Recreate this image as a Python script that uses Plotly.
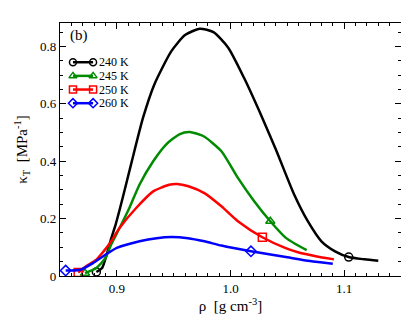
import plotly.graph_objects as go

# ---- data ----
x240 = [0.882, 0.887, 0.891, 0.895, 0.899, 0.905, 0.913, 0.923, 0.933, 0.948, 0.960, 0.973, 0.985, 0.998,
        1.012, 1.028, 1.040, 1.056, 1.068, 1.080, 1.092, 1.104, 1.118, 1.130]
y240 = [0.014, 0.028, 0.074, 0.130, 0.180, 0.270, 0.397, 0.551, 0.668, 0.784, 0.840, 0.862, 0.850, 0.796,
        0.690, 0.551, 0.440, 0.284, 0.191, 0.121, 0.086, 0.066, 0.058, 0.053]
x245 = [0.872, 0.882, 0.890, 0.895, 0.9025, 0.911, 0.920, 0.932, 0.9435, 0.955, 0.964, 0.976, 0.992, 1.0065,
        1.021, 1.035, 1.049, 1.067]
y245 = [0.010, 0.028, 0.063, 0.110, 0.168, 0.237, 0.319, 0.400, 0.459, 0.494, 0.502, 0.488, 0.435, 0.342,
        0.260, 0.191, 0.132, 0.090]
x250 = [0.866, 0.873, 0.882, 0.888, 0.894, 0.9025, 0.917, 0.932, 0.946, 0.953, 0.963, 0.977, 0.992, 1.0065,
        1.028, 1.048, 1.060, 1.075, 1.091]
y250 = [0.012, 0.034, 0.057, 0.084, 0.115, 0.168, 0.237, 0.295, 0.318, 0.321, 0.313, 0.289, 0.243, 0.191,
        0.135, 0.098, 0.082, 0.069, 0.058]
x260 = [0.855, 0.868, 0.879, 0.888, 0.900, 0.920, 0.935, 0.948, 0.9626, 0.977, 0.992, 1.018, 1.050, 1.070,
        1.090]
y260 = [0.019, 0.022, 0.045, 0.069, 0.098, 0.121, 0.132, 0.136, 0.132, 0.121, 0.106, 0.086, 0.065, 0.052,
        0.043]

# marker points
mx240 = [0.882, 1.104]; my240 = [0.014, 0.066]
mx245 = [0.872, 1.035]; my245 = [0.010, 0.191]
mx250 = [0.866, 1.028]; my250 = [0.012, 0.135]
mx260 = [0.855, 1.018]; my260 = [0.019, 0.086]

labels = ["240 K", "245 K", "250 K", "260 K"]
colors = ["black", "rgb(0,139,0)", "rgb(255,0,0)", "rgb(0,0,255)"]
symbols = ["circle-open", "triangle-up-open", "square-open", "diamond-open"]

series = [(x240, y240, mx240, my240), (x245, y245, mx245, my245),
          (x250, y250, mx250, my250), (x260, y260, mx260, my260)]

font = "Liberation Serif, Times New Roman, serif"
fig = go.Figure()
for (xs, ys, mxs, mys), lab, col, sym in zip(series, labels, colors, symbols):
    fig.add_trace(go.Scatter(x=xs, y=ys, mode="lines", showlegend=False,
                             line=dict(color=col, width=2.5, shape="spline", smoothing=0.6),
                             hoverinfo="skip"))
    fig.add_trace(go.Scatter(x=mxs, y=mys, mode="markers", showlegend=False, name=lab,
                             marker=dict(symbol=sym, size=8, color=col, line=dict(width=1.5, color=col))))

# legend drawn Grace-style (line with a marker at each end) on an overlay paper-like axis
leg_x = [0.038, 0.097]
leg_y = [0.845, 0.791, 0.737, 0.683]
for yy, lab, col, sym in zip(leg_y, labels, colors, symbols):
    fig.add_trace(go.Scatter(x=leg_x, y=[yy, yy], xaxis="x2", yaxis="y2", mode="lines+markers",
                             showlegend=False, hoverinfo="skip",
                             line=dict(color=col, width=2.5),
                             marker=dict(symbol=sym, size=7, color=col, line=dict(width=1.5, color=col))))
    fig.add_annotation(x=0.112, y=yy, xref="x2", yref="y2", text=lab, showarrow=False,
                       xanchor="left", yanchor="middle", borderpad=0,
                       font=dict(family=font, size=12, color="black"))

axis_common = dict(showline=True, linecolor="black", linewidth=1.2, mirror="allticks",
                   ticks="inside", ticklen=6, tickwidth=1, tickcolor="black",
                   showgrid=False, zeroline=False, automargin=False,
                   tickfont=dict(family=font, size=13, color="black"))

fig.update_xaxes(range=[0.85, 1.15], dtick=0.1, tick0=0.9, tickformat=".1f",
                 minor=dict(dtick=0.01, ticks="inside", ticklen=3, tickcolor="black", showgrid=False),
                 title=dict(text="ρ  [g cm<sup>-3</sup>]", font=dict(family=font, size=15, color="black"),
                            standoff=4),
                 **axis_common)
fig.update_yaxes(range=[0, 0.882], dtick=0.2, tick0=0,
                 minor=dict(dtick=0.05, ticks="inside", ticklen=3, tickcolor="black", showgrid=False),
                 title=dict(text="κ<sub>T</sub>  [MPa<sup>-1</sup>]", font=dict(family=font, size=15, color="black"),
                            standoff=8),
                 **axis_common)

fig.add_annotation(x=0.056, y=0.949, xref="paper", yref="paper", text="(b)", showarrow=False,
                   xanchor="center", yanchor="middle", font=dict(family=font, size=15, color="black"))

fig.update_layout(width=409, height=316, margin=dict(l=52, r=16, t=15, b=48, autoexpand=False),
                  plot_bgcolor="white", paper_bgcolor="white", showlegend=False,
                  xaxis2=dict(overlaying="x", range=[0, 1], visible=False, fixedrange=True),
                  yaxis2=dict(overlaying="y", range=[0, 1], visible=False, fixedrange=True))
fig.write_html("out.html")
